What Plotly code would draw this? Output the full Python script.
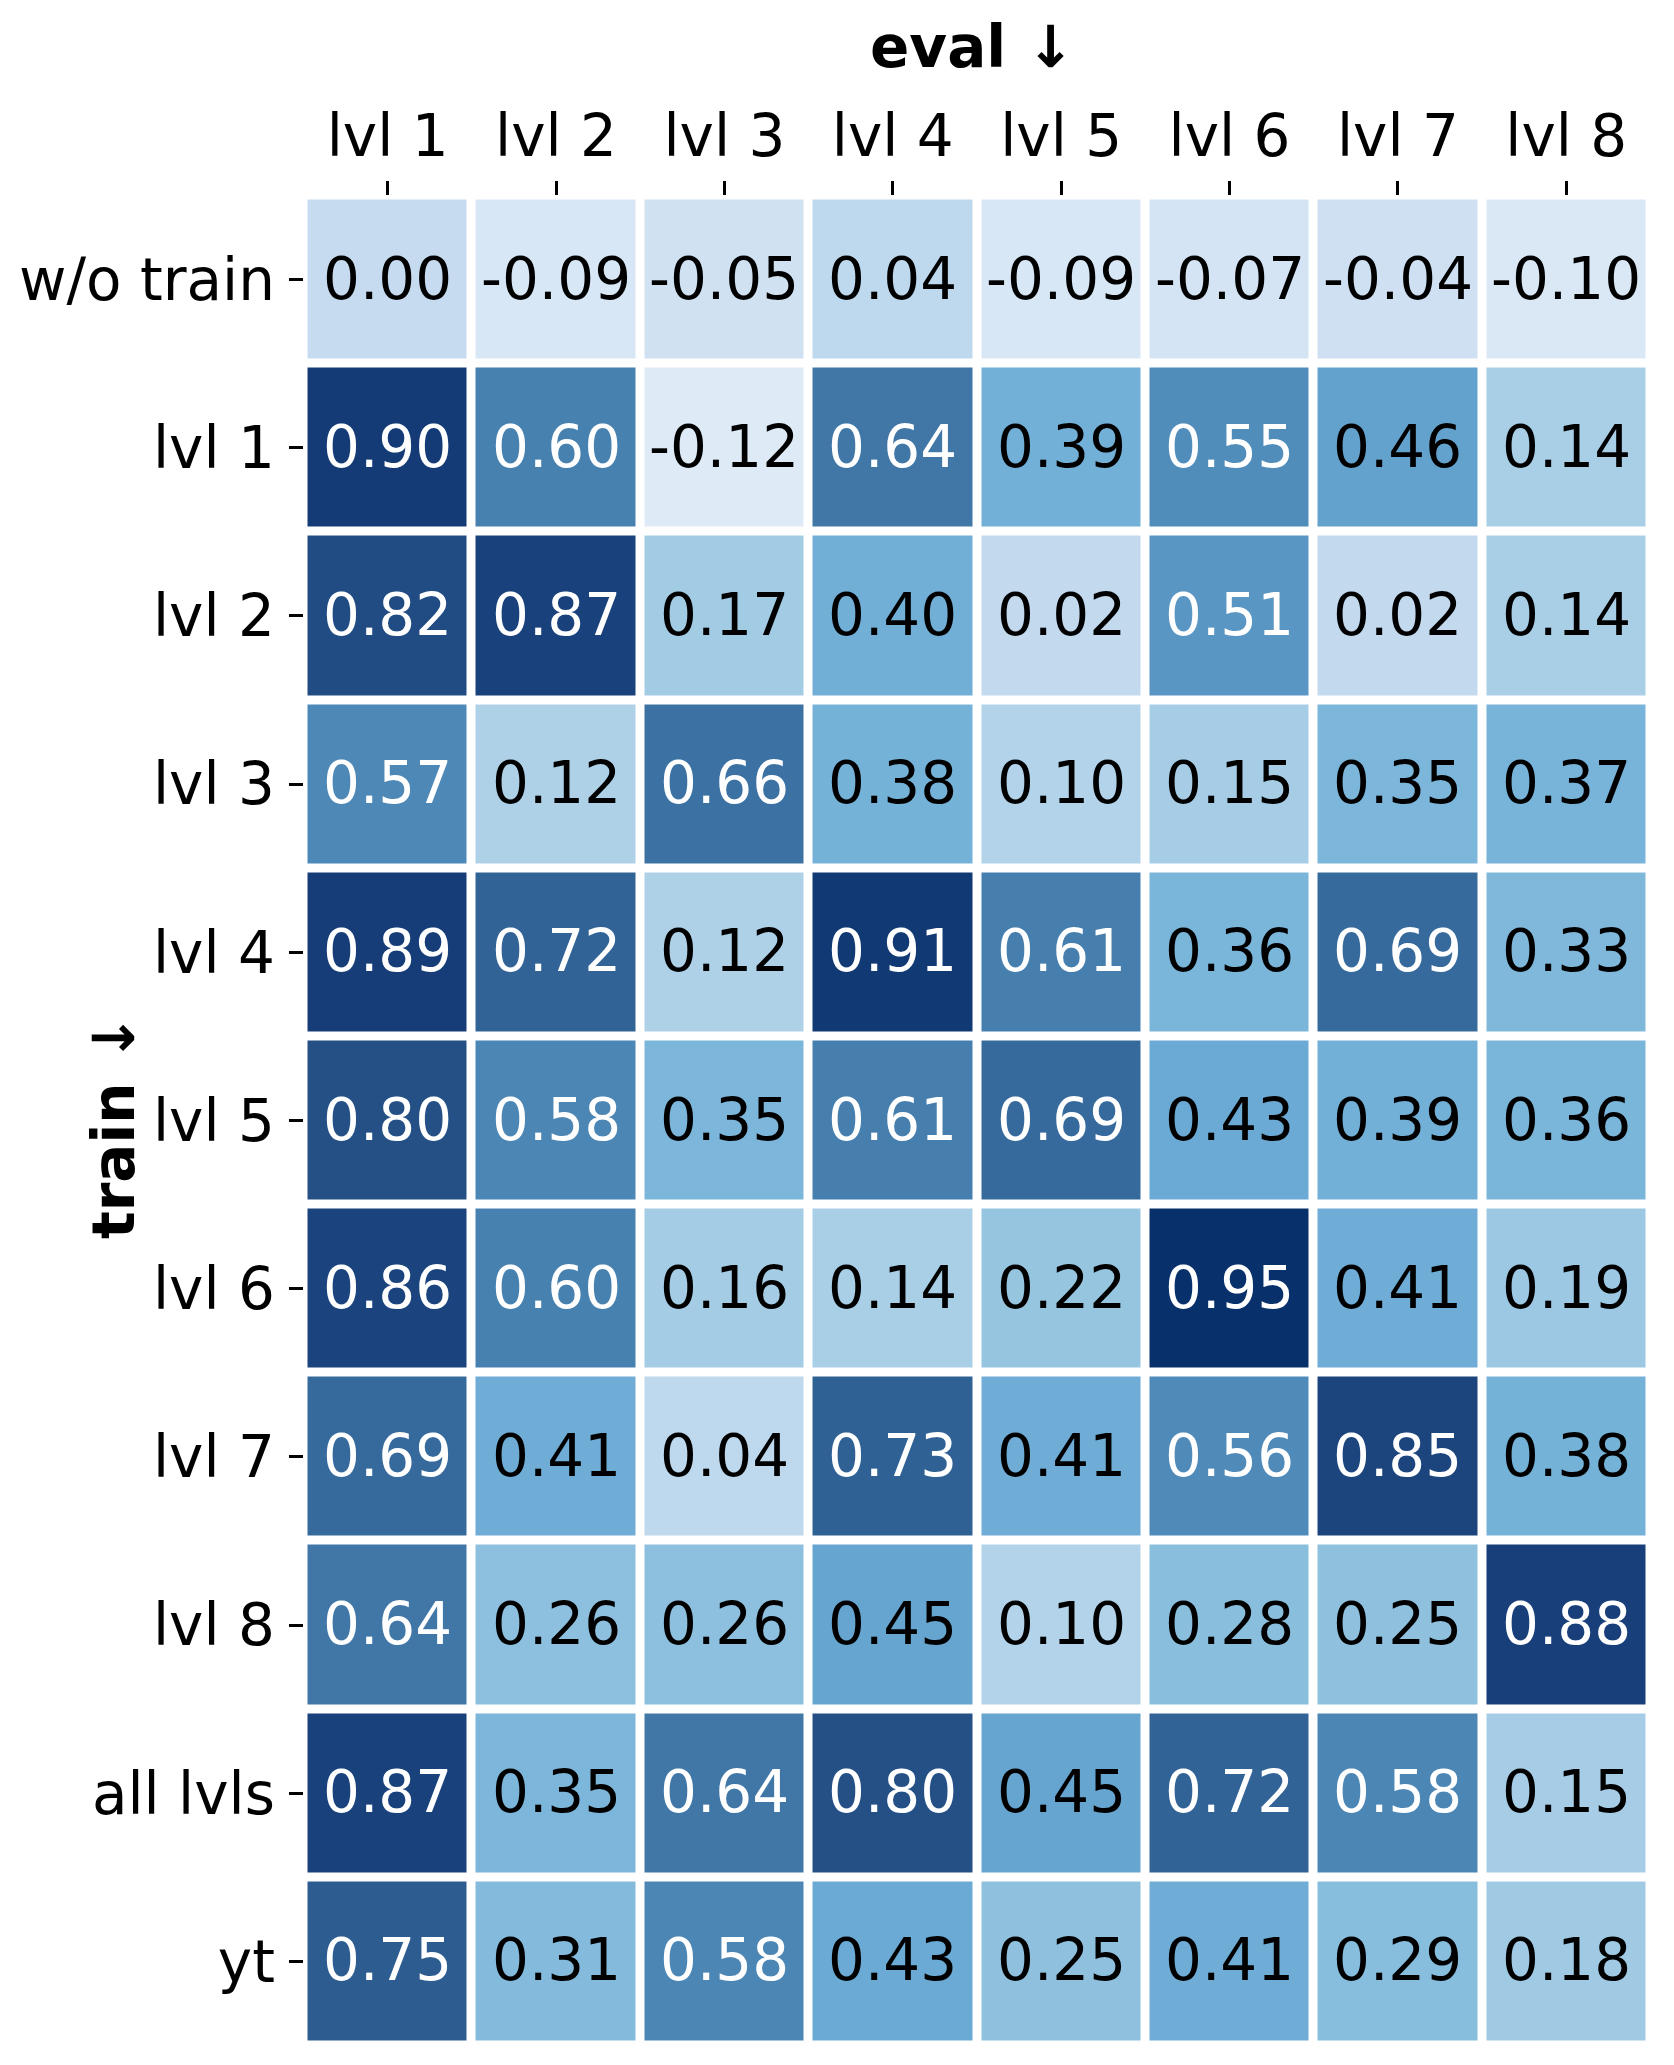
import plotly.graph_objects as go

eval_levels = ["lvl 1", "lvl 2", "lvl 3", "lvl 4", "lvl 5", "lvl 6", "lvl 7", "lvl 8"]
train_sets = ["w/o train", "lvl 1", "lvl 2", "lvl 3", "lvl 4", "lvl 5", "lvl 6", "lvl 7", "lvl 8", "all lvls", "yt"]

row_wo_train = [0.00, -0.09, -0.05, 0.04, -0.09, -0.07, -0.04, -0.10]
row_lvl1 = [0.90, 0.60, -0.12, 0.64, 0.39, 0.55, 0.46, 0.14]
row_lvl2 = [0.82, 0.87, 0.17, 0.40, 0.02, 0.51, 0.02, 0.14]
row_lvl3 = [0.57, 0.12, 0.66, 0.38, 0.10, 0.15, 0.35, 0.37]
row_lvl4 = [0.89, 0.72, 0.12, 0.91, 0.61, 0.36, 0.69, 0.33]
row_lvl5 = [0.80, 0.58, 0.35, 0.61, 0.69, 0.43, 0.39, 0.36]
row_lvl6 = [0.86, 0.60, 0.16, 0.14, 0.22, 0.95, 0.41, 0.19]
row_lvl7 = [0.69, 0.41, 0.04, 0.73, 0.41, 0.56, 0.85, 0.38]
row_lvl8 = [0.64, 0.26, 0.26, 0.45, 0.10, 0.28, 0.25, 0.88]
row_all = [0.87, 0.35, 0.64, 0.80, 0.45, 0.72, 0.58, 0.15]
row_yt = [0.75, 0.31, 0.58, 0.43, 0.25, 0.41, 0.29, 0.18]

z = [row_wo_train, row_lvl1, row_lvl2, row_lvl3, row_lvl4, row_lvl5,
     row_lvl6, row_lvl7, row_lvl8, row_all, row_yt]

# colour anchors (value -> colour), a Blues-like ramp
anchor_vals = [-0.12, 0.00, 0.12, 0.25, 0.36, 0.43, 0.50, 0.58, 0.69, 0.80, 0.89, 0.95]
anchor_cols = ["#deebf7", "#c6dbef", "#aed1e8", "#8fc1de", "#7ab5da", "#6aaad4",
               "#5b98c6", "#4b86b5", "#376a9c", "#245086", "#163d78", "#08306b"]
zmin, zmax = anchor_vals[0], anchor_vals[-1]
colorscale = [[(v - zmin) / (zmax - zmin), c] for v, c in zip(anchor_vals, anchor_cols)]

W, H = 1674, 2065
FONT = "DejaVu Sans"
x0, x1 = 303.5, 1650.5
y0, y1 = 195.5, 2045.5

fig = go.Figure()
fig.add_trace(go.Heatmap(
    z=z, x=eval_levels, y=train_sets,
    colorscale=colorscale, zmin=zmin, zmax=zmax,
    showscale=False, xgap=9, ygap=9, hoverinfo="skip",
))

annotations = []
for r, name in enumerate(train_sets):
    for c, lv in enumerate(eval_levels):
        v = z[r][c]
        annotations.append(dict(
            x=lv, y=name, xref="x", yref="y", text=f"{v:.2f}",
            showarrow=False, xanchor="center", yanchor="middle", yshift=1,
            font=dict(family=FONT, size=58, color="white" if v >= 0.5 else "black"),
        ))

annotations += [
    dict(text="<b>eval ↓</b>", xref="paper", yref="paper",
         x=972 / W, y=1 - 47 / H,
         showarrow=False, font=dict(family=FONT, size=58, color="black"),
         xanchor="center", yanchor="middle"),
    dict(text="<b>train ↓</b>", xref="paper", yref="paper",
         x=114 / W, y=1 - 1127 / H,
         showarrow=False, font=dict(family=FONT, size=58, color="black"),
         textangle=-90, xanchor="center", yanchor="middle"),
]

fig.update_layout(
    width=W, height=H,
    margin=dict(l=0, r=0, t=0, b=0),
    paper_bgcolor="white", plot_bgcolor="white",
    font=dict(family=FONT, size=58, color="black"),
    showlegend=False,
    xaxis=dict(
        domain=[x0 / W, x1 / W], side="top", type="category",
        range=[-0.5, len(eval_levels) - 0.5],
        ticks="outside", ticklen=14, tickwidth=2.5, tickcolor="black",
        showgrid=False, zeroline=False, showline=False, automargin=False,
        tickfont=dict(family=FONT, size=58, color="black"),
        ticklabelstandoff=1,
    ),
    yaxis=dict(
        domain=[1 - y1 / H, 1 - y0 / H], type="category",
        range=[len(train_sets) - 0.5, -0.5],
        ticks="outside", ticklen=14, tickwidth=2.5, tickcolor="black",
        showgrid=False, zeroline=False, showline=False, automargin=False,
        tickfont=dict(family=FONT, size=58, color="black"),
        ticklabelstandoff=2,
    ),
    annotations=annotations,
)

fig.write_html("out.html")
